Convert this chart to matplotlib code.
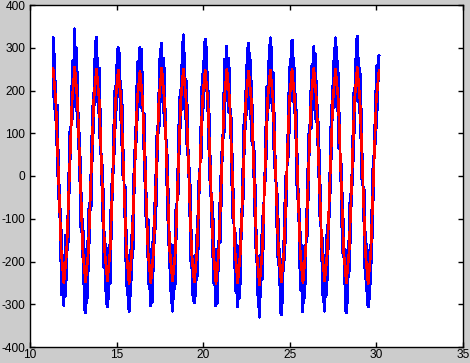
import numpy as np
import matplotlib
matplotlib.use("Agg")
import matplotlib.pyplot as plt

# time span of the recording (first red peak .. last sample)
t_start = 11.33
t_end = 30.15

# raw signal (blue), read per cycle: 32 samples per cycle, 15 cycles + final sample
blue_values = [
    323, 185, 286, 133, 222, 74, 166, -1, 60, -94, -21, -199, -127, -278, -191, -300, -302, -185, -281, -138, -242, -94, -171, 6, -40, 114, 41, 209, 132, 268, 161, 295,
    344, 200, 301, 153, 242, 64, 146, -11, 45, -119, -41, -189, -102, -253, -171, -315, -320, -195, -296, -153, -222, -64, -156, 1, -70, 94, 36, 194, 102, 273, 181, 315,
    325, 175, 276, 148, 252, 89, 156, -21, 50, -104, -31, -214, -132, -268, -161, -295, -306, -175, -286, -163, -252, -79, -146, 16, -55, 119, 51, 199, 112, 258, 156, 295,
    300, 185, 286, 133, 222, 74, 166, -1, 60, -94, -21, -199, -127, -278, -191, -300, -316, -185, -281, -138, -242, -94, -171, 6, -40, 114, 41, 209, 132, 268, 161, 290,
    300, 200, 296, 153, 242, 64, 146, -11, 45, -119, -41, -189, -102, -253, -171, -298, -304, -195, -296, -153, -222, -64, -156, 1, -70, 94, 36, 194, 102, 273, 181, 305,
    311, 175, 276, 148, 252, 89, 156, -21, 50, -104, -31, -214, -132, -268, -161, -295, -316, -175, -286, -163, -252, -79, -146, 16, -55, 119, 51, 199, 112, 258, 156, 305,
    330, 185, 286, 133, 222, 74, 166, -1, 60, -94, -21, -199, -127, -278, -191, -290, -297, -185, -281, -138, -242, -94, -171, 6, -40, 114, 41, 209, 132, 268, 161, 295,
    320, 200, 301, 153, 242, 64, 146, -11, 45, -119, -41, -189, -102, -253, -171, -300, -304, -195, -296, -153, -222, -64, -156, 1, -70, 94, 36, 194, 102, 273, 181, 298,
    304, 175, 276, 148, 252, 89, 156, -21, 50, -104, -31, -214, -132, -268, -161, -295, -306, -175, -286, -163, -252, -79, -146, 16, -55, 119, 51, 199, 112, 258, 156, 300,
    311, 185, 286, 133, 222, 74, 166, -1, 60, -94, -21, -199, -127, -278, -191, -300, -330, -185, -281, -138, -242, -94, -171, 6, -40, 114, 41, 209, 132, 268, 161, 295,
    323, 200, 301, 153, 242, 64, 146, -11, 45, -119, -41, -189, -102, -253, -171, -315, -325, -195, -296, -153, -222, -64, -156, 1, -70, 94, 36, 194, 102, 273, 181, 310,
    318, 175, 276, 148, 252, 89, 156, -21, 50, -104, -31, -214, -132, -268, -161, -295, -318, -175, -286, -163, -252, -79, -146, 16, -55, 119, 51, 199, 112, 258, 156, 295,
    302, 185, 286, 133, 222, 74, 166, -1, 60, -94, -21, -199, -127, -278, -191, -300, -316, -185, -281, -138, -242, -94, -171, 6, -40, 114, 41, 209, 132, 268, 161, 295,
    323, 200, 301, 153, 242, 64, 146, -11, 45, -119, -41, -189, -102, -253, -171, -315, -320, -195, -296, -153, -222, -64, -156, 1, -70, 94, 36, 194, 102, 273, 181, 315,
    327, 175, 276, 148, 252, 89, 156, -21, 50, -104, -31, -214, -132, -268, -161, -295, -306, -175, -286, -163, -252, -79, -146, 16, -55, 119, 51, 199, 112, 258, 156, 270,
    281,
]

# filtered signal (red), 8 samples per cycle, 15 cycles + final sample
red_values = [
    252, 178, 4, -175, -250, -180, -3, 176,
    255, 175, 2, -178, -248, -176, 2, 178,
    250, 177, -2, -174, -245, -178, 4, 175,
    248, 180, 3, -177, -252, -175, -2, 177,
    246, 176, -1, -179, -250, -177, 3, 179,
    252, 178, 2, -176, -246, -179, -4, 176,
    250, 175, 4, -178, -248, -176, 1, 178,
    248, 177, -3, -175, -252, -178, 2, 175,
    250, 179, 1, -177, -250, -175, -2, 177,
    246, 176, 3, -180, -254, -177, 4, 179,
    248, 178, -2, -176, -248, -179, -1, 176,
    250, 175, 2, -178, -250, -176, 3, 178,
    252, 177, -3, -175, -246, -178, 2, 175,
    250, 180, 1, -177, -250, -175, -2, 177,
    254, 176, 3, -179, -252, -177, 1, 179,
    246,
]

x_ticks = [10, 15, 20, 25, 30, 35]
y_ticks = [-400, -300, -200, -100, 0, 100, 200, 300, 400]

t_blue = np.linspace(t_start, t_end, len(blue_values))
t_red = np.linspace(t_start, t_end, len(red_values))

fig = plt.figure(figsize=(4.70, 3.63), dpi=100, facecolor="#cccccc")
ax = fig.add_axes([30 / 470, 16 / 363, 433 / 470, 342 / 363])
ax.set_facecolor("white")

ax.plot(t_blue, blue_values, color="#0000ff", linewidth=1.4, antialiased=False)
ax.plot(t_red, red_values, color="#ff0000", linewidth=1.2, antialiased=False)

ax.set_xlim(10, 35)
ax.set_ylim(-400, 400)
ax.set_xticks(x_ticks)
ax.set_yticks(y_ticks)
ax.set_xticklabels([str(v) for v in x_ticks])
ax.set_yticklabels([str(v) for v in y_ticks])

for s in ax.spines.values():
    s.set_linewidth(1.0)
    s.set_color("black")

ax.tick_params(direction="in", length=3.6, width=1.0, top=True, right=True,
               labelsize=8.6, colors="black")
ax.tick_params(axis="x", pad=1.5)
ax.tick_params(axis="y", pad=3.5)
for lbl in ax.get_xticklabels() + ax.get_yticklabels():
    lbl.set_fontfamily("Liberation Sans")

fig.savefig("out.png", dpi=100, facecolor=fig.get_facecolor())
